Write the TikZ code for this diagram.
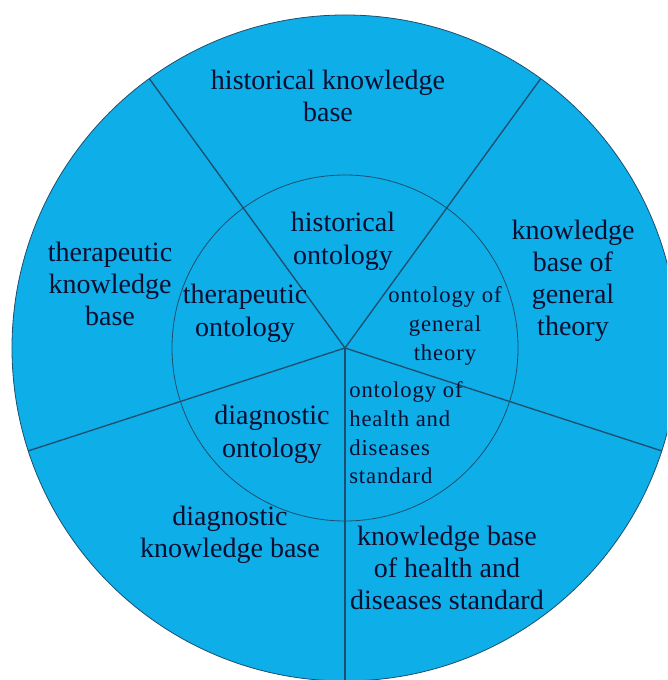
\documentclass[tikz,border=0pt]{standalone}
\usepackage{fontspec}
\setmainfont{Liberation Serif}
\newfontfamily\wheelfont{Liberation Serif}
\usepackage{xcolor}
\usepackage{tikz}
\usetikzlibrary{positioning}
\definecolor{wheelblue}{HTML}{0EAEE8}
\definecolor{wheelline}{HTML}{1E4E6E}
\definecolor{wheeltext}{HTML}{0C0E30}

\begin{document}
\begin{tikzpicture}[
    x=0.75pt, y=0.75pt,
    ring/.style={draw=wheelline, line width=0.6pt},
    spoke/.style={draw=wheelline, line width=1pt},
    kbase/.style={align=center, text=wheeltext, font=\wheelfont\fontsize{21}{24}\selectfont, inner sep=0pt},
    onto/.style={align=center, text=wheeltext, font=\wheelfont\fontsize{21}{25}\selectfont, inner sep=0pt},
    subonto/.style={align=left, text=wheeltext, font=\wheelfont\fontsize{17}{21.5}\selectfont\addfontfeatures{LetterSpace=4}, inner sep=0pt}
]
    % Page frame
    \useasboundingbox (-345,-332) rectangle (322,348);
    \clip (-345,-332) rectangle (322,348);

    % Wheel
    \coordinate (c) at (0,0);
    \fill[wheelblue] (c) circle (333);
    \draw[ring] (c) circle (333);
    \draw[ring] (c) circle (173);
    \foreach \a in {126,54,-18,-90,-162}
        \draw[spoke] (c) -- (\a:333);

    % Outer ring: knowledge bases
    \node (hkb) [kbase] at (-17,252) {historical knowledge\\base};
    \node (tkb) [kbase] at (-235,64) {therapeutic\\knowledge\\base};
    \node (gkb) [kbase] at (228,67) {knowledge\\base of\\general\\theory};
    \node (dkb) [kbase] at (-115,-187) {diagnostic\\knowledge base};
    \node (skb) [kbase] at (102,-220) {knowledge base\\of health and\\diseases standard};

    % Inner ring: ontologies
    \node (hont) [onto] at (-2,107) {historical\\ontology};
    \node (tont) [onto] at (-100,35) {therapeutic\\ontology};
    \node (dont) [onto] at (-73,-86) {diagnostic\\ontology};
    \node (gont) [subonto, align=center] at (100,22) {ontology of\\general\\theory};
    \node (sont) [subonto, anchor=west] at (4,-85) {ontology of\\health and\\diseases\\standard};
\end{tikzpicture}
\end{document}
